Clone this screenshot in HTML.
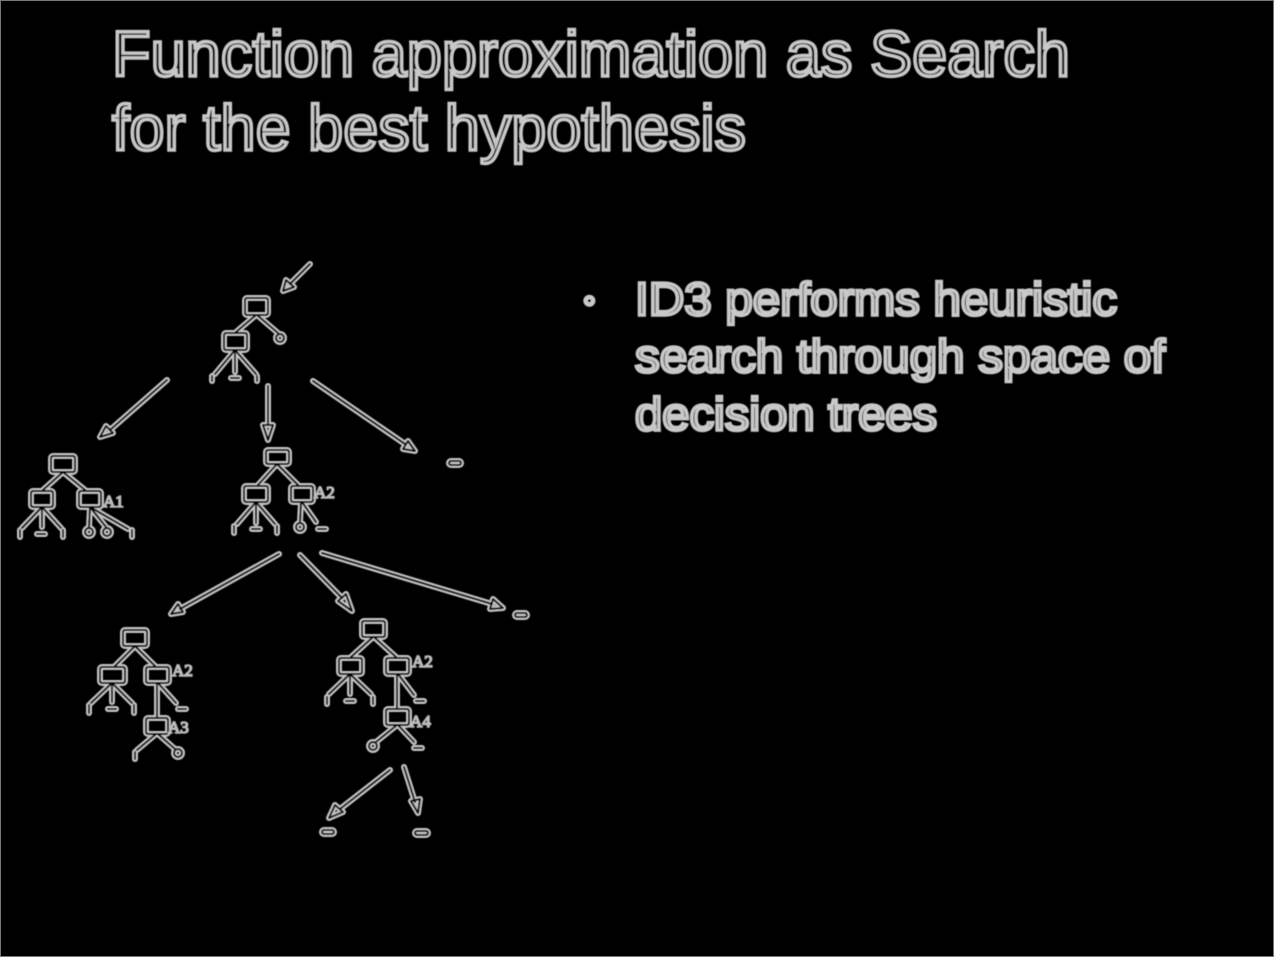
<!DOCTYPE html>
<html><head><meta charset="utf-8"><style>
html,body{margin:0;padding:0;background:#000;}
svg{display:block}
</style></head><body>
<svg width="1274" height="957" viewBox="0 0 1274 957" xmlns="http://www.w3.org/2000/svg">
<rect x="0.5" y="0.5" width="1273" height="956" fill="#000" stroke="#777" stroke-width="1"/>
<defs>
<filter id="b" x="-5%" y="-5%" width="110%" height="110%"><feGaussianBlur stdDeviation="0.6"/></filter>
<g id="d" fill="none" stroke-linecap="round" stroke-linejoin="round">
 <line x1="310" y1="264" x2="290" y2="284"/><polygon points="283,291 286,280 294,287"/>
 <rect x="245" y="298" width="23" height="17" rx="2"/>
 <line x1="256" y1="315" x2="236" y2="332"/><line x1="257" y1="315" x2="278" y2="333"/>
 <circle cx="280" cy="338" r="4"/>
 <rect x="224" y="333" width="23" height="17" rx="2"/>
 <line x1="235" y1="350" x2="215" y2="374"/><line x1="235" y1="350" x2="235" y2="372"/><line x1="235" y1="350" x2="256" y2="374"/>
 <line x1="212" y1="376" x2="212" y2="381"/><line x1="231" y1="378" x2="239" y2="378"/><line x1="257" y1="376" x2="257" y2="381"/>
 <line x1="167" y1="380" x2="110" y2="430"/><polygon points="100,437 106,426 113,433"/>
 <line x1="268" y1="386" x2="268" y2="425"/><polygon points="268,440 263,425 273,425"/>
 <line x1="313" y1="381" x2="405" y2="444"/><polygon points="415,451 403,449 408,441"/>
 <rect x="449" y="461" width="12" height="4" rx="2"/>
 <rect x="51" y="456" width="24" height="16" rx="2"/>
 <line x1="63" y1="472" x2="43" y2="490"/><line x1="63" y1="472" x2="85" y2="490"/>
 <rect x="31" y="491" width="22" height="16" rx="2"/>
 <rect x="79" y="491" width="22" height="16" rx="2"/>
 <line x1="42" y1="507" x2="22" y2="528"/><line x1="42" y1="507" x2="42" y2="527"/><line x1="42" y1="507" x2="61" y2="528"/>
 <line x1="20" y1="530" x2="20" y2="537"/><line x1="37" y1="534" x2="45" y2="534"/><line x1="63" y1="530" x2="63" y2="537"/>
 <line x1="90" y1="507" x2="89" y2="527"/><line x1="90" y1="507" x2="106" y2="527"/><line x1="90" y1="507" x2="128" y2="529"/>
 <circle cx="89" cy="532" r="4"/><circle cx="107" cy="532" r="4"/><line x1="132" y1="530" x2="132" y2="537"/>
 <rect x="266" y="450" width="23" height="14" rx="2"/>
 <line x1="277" y1="464" x2="258" y2="485"/><line x1="277" y1="464" x2="298" y2="485"/>
 <rect x="244" y="486" width="24" height="16" rx="2"/>
 <rect x="291" y="486" width="22" height="16" rx="2"/>
 <line x1="256" y1="502" x2="237" y2="524"/><line x1="256" y1="502" x2="256" y2="523"/><line x1="256" y1="502" x2="275" y2="524"/>
 <line x1="234" y1="526" x2="234" y2="533"/><line x1="252" y1="529" x2="260" y2="529"/><line x1="277" y1="526" x2="277" y2="533"/>
 <line x1="301" y1="502" x2="300" y2="522"/><line x1="302" y1="502" x2="316" y2="522"/>
 <circle cx="300" cy="527" r="4"/><line x1="318" y1="529" x2="326" y2="529"/>
 <line x1="279" y1="554" x2="180" y2="609"/><polygon points="171,614 178,604 183,612"/>
 <line x1="300" y1="555" x2="342" y2="598"/><polygon points="352,611 338,601 346,594"/>
 <line x1="322" y1="553" x2="492" y2="604"/><polygon points="503,608 490,609 493,599"/>
 <rect x="515" y="613" width="12" height="4" rx="2"/>
 <rect x="123" y="630" width="24" height="16" rx="2"/>
 <line x1="135" y1="646" x2="115" y2="666"/><line x1="135" y1="646" x2="155" y2="666"/>
 <rect x="100" y="667" width="25" height="16" rx="2"/>
 <rect x="146" y="667" width="23" height="16" rx="2"/>
 <line x1="112" y1="683" x2="91" y2="703"/><line x1="112" y1="683" x2="112" y2="702"/><line x1="112" y1="683" x2="132" y2="703"/>
 <line x1="89" y1="705" x2="89" y2="713"/><line x1="108" y1="709" x2="116" y2="709"/><line x1="134" y1="705" x2="134" y2="713"/>
 <line x1="157" y1="683" x2="157" y2="718"/><line x1="158" y1="683" x2="176" y2="703"/><line x1="178" y1="709" x2="186" y2="709"/>
 <rect x="146" y="718" width="22" height="16" rx="2"/>
 <line x1="156" y1="734" x2="137" y2="750"/><line x1="158" y1="734" x2="175" y2="749"/>
 <line x1="135" y1="752" x2="135" y2="759"/><circle cx="178" cy="753" r="4"/>
 <rect x="362" y="621" width="23" height="16" rx="2"/>
 <line x1="373" y1="637" x2="351" y2="657"/><line x1="374" y1="637" x2="396" y2="657"/>
 <rect x="339" y="658" width="23" height="16" rx="2"/>
 <rect x="386" y="658" width="23" height="16" rx="2"/>
 <line x1="350" y1="674" x2="329" y2="694"/><line x1="350" y1="674" x2="350" y2="694"/><line x1="350" y1="674" x2="371" y2="694"/>
 <line x1="327" y1="697" x2="327" y2="704"/><line x1="346" y1="701" x2="354" y2="701"/><line x1="373" y1="697" x2="373" y2="704"/>
 <line x1="397" y1="674" x2="397" y2="708"/><line x1="398" y1="674" x2="414" y2="695"/><line x1="416" y1="701" x2="424" y2="701"/>
 <rect x="386" y="709" width="23" height="16" rx="2"/>
 <line x1="397" y1="725" x2="376" y2="742"/><line x1="398" y1="725" x2="414" y2="742"/>
 <circle cx="373" cy="746" r="4"/><line x1="414" y1="748" x2="422" y2="748"/>
 <line x1="390" y1="770" x2="340" y2="809"/><polygon points="329,818 335,805 343,812"/>
 <line x1="404" y1="767" x2="415" y2="802"/><polygon points="418,813 411,801 420,799"/>
 <rect x="322" y="830" width="12" height="4" rx="2"/>
 <rect x="415" y="831" width="13" height="4" rx="2"/>
</g>
</defs>
<g filter="url(#b)">
<use href="#d" stroke="#c4c4c4" stroke-width="6"/>
<use href="#d" stroke="#000" stroke-width="2"/>
<g font-family="Liberation Serif, serif" font-size="17" fill="#000" stroke="#bbb" stroke-width="1.6">
  <text x="103" y="507">A1</text>
  <text x="314" y="498">A2</text>
  <text x="172" y="676">A2</text>
  <text x="168" y="733">A3</text>
  <text x="412" y="667">A2</text>
  <text x="410" y="727">A4</text>
</g>
<g font-family="Liberation Sans, sans-serif" fill="#000" stroke="#c8c8c8" stroke-width="3.4">
 <text x="112" y="76" font-size="64" textLength="958" lengthAdjust="spacingAndGlyphs">Function approximation as Search</text>
 <text x="112" y="150" font-size="64" textLength="634" lengthAdjust="spacingAndGlyphs">for the best hypothesis</text>
 <text x="583" y="312" font-size="36">◦</text>
 <text x="635" y="315" font-size="46" textLength="482" lengthAdjust="spacingAndGlyphs">ID3 performs heuristic</text>
 <text x="635" y="372" font-size="46" textLength="530" lengthAdjust="spacingAndGlyphs">search through space of</text>
 <text x="635" y="430" font-size="46" textLength="302" lengthAdjust="spacingAndGlyphs">decision trees</text>
</g>
</g>
</svg>
</body></html>
